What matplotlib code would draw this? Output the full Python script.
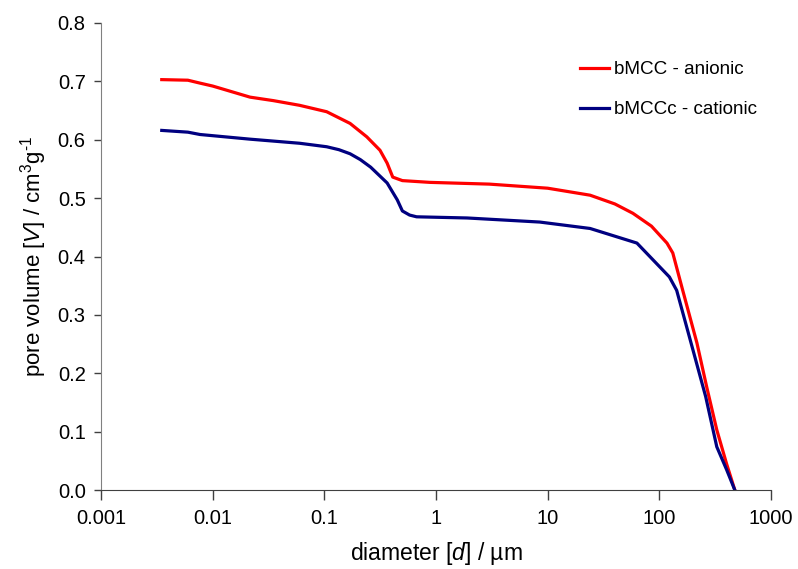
import numpy as np
import matplotlib.pyplot as plt

plt.rcParams['font.family'] = ['Liberation Sans', 'DejaVu Sans']
plt.rcParams['mathtext.fontset'] = 'custom'
plt.rcParams['mathtext.rm'] = 'Liberation Sans'
plt.rcParams['mathtext.it'] = 'Liberation Sans:italic'

# bMCC - anionic
d_anionic = [0.0035, 0.006, 0.0077, 0.01, 0.015, 0.0216, 0.035, 0.06, 0.105, 0.17, 0.24,
             0.315, 0.365, 0.41, 0.5, 0.88, 3, 10, 24, 40, 58, 85, 117, 132, 162, 217,
             266, 327, 400, 474]
v_anionic = [0.703, 0.702, 0.697, 0.692, 0.682, 0.673, 0.667, 0.659, 0.648, 0.628, 0.605,
             0.582, 0.560, 0.536, 0.530, 0.527, 0.524, 0.517, 0.505, 0.490, 0.474, 0.452,
             0.423, 0.406, 0.342, 0.252, 0.176, 0.103, 0.045, 0.0]

# bMCCc - cationic
d_cationic = [0.0035, 0.006, 0.0077, 0.0216, 0.06, 0.105, 0.135, 0.17, 0.21, 0.26, 0.365,
              0.45, 0.5, 0.58, 0.67, 1.9, 8.5, 24, 63, 123, 143, 200, 260, 327, 400, 474]
v_cationic = [0.616, 0.613, 0.609, 0.601, 0.594, 0.588, 0.583, 0.576, 0.566, 0.553, 0.526,
              0.497, 0.478, 0.471, 0.468, 0.466, 0.459, 0.448, 0.423, 0.365, 0.342, 0.240,
              0.160, 0.074, 0.035, 0.0]

x_ticks = [0.001, 0.01, 0.1, 1, 10, 100, 1000]
x_ticklabels = ['0.001', '0.01', '0.1', '1', '10', '100', '1000']
y_ticks = [0.0, 0.1, 0.2, 0.3, 0.4, 0.5, 0.6, 0.7, 0.8]

fig = plt.figure(figsize=(7.98, 5.69), dpi=100)
ax = fig.add_axes([101 / 798, 1 - 490 / 569, 670 / 798, 467 / 569])

ax.plot(d_anionic, v_anionic, color='#FF0000', lw=2.3, label='bMCC - anionic')
ax.plot(d_cationic, v_cationic, color='#000080', lw=2.3, label='bMCCc - cationic')

ax.set_xscale('log')
ax.set_xlim(0.001, 1000)
ax.set_ylim(0, 0.8)
ax.set_xticks(x_ticks)
ax.set_xticklabels(x_ticklabels)
ax.minorticks_off()
ax.set_yticks(y_ticks)
ax.set_yticklabels([f'{v:.1f}' for v in y_ticks])

ax.spines['top'].set_visible(False)
ax.spines['right'].set_visible(False)
ax.spines['left'].set_color('#808080')
ax.spines['bottom'].set_color('#404040')
ax.tick_params(axis='y', length=5, width=1, color='#404040', labelsize=14.5, pad=6)
ax.tick_params(axis='x', length=7, width=1, color='#404040', labelsize=14.5, pad=7)

ax.set_xlabel(r'diameter [$\it{d}$] / µm', fontsize=16.5, labelpad=8)
ax.set_ylabel(r'pore volume [$\it{V}$] / cm$^{3}$g$^{\text{-}1}$', fontsize=16, labelpad=6)

ax.legend(loc='upper left', bbox_to_anchor=(0.69, 0.955), frameon=False, fontsize=13.6,
          handlelength=1.5, handletextpad=0.3, labelspacing=1.2)

fig.savefig('out.png', dpi=100)
